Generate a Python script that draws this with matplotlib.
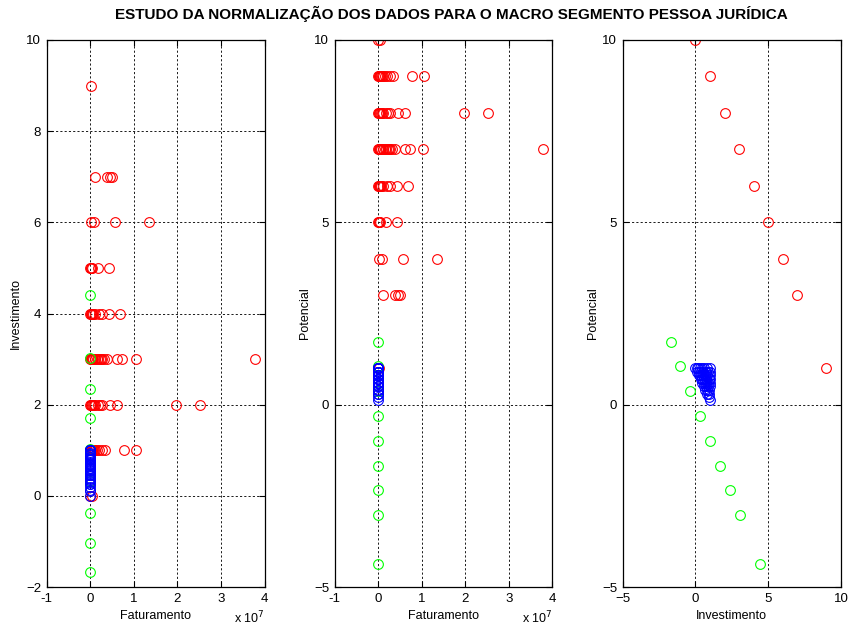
import matplotlib
matplotlib.use("Agg")
import matplotlib.pyplot as plt
from matplotlib.ticker import FuncFormatter

plt.rcParams['font.family'] = ['Liberation Sans', 'DejaVu Sans']

# ---- Raw data (red): faturamento in R$, investimento and potencial scores ----
red_faturamento = [
    0.00e7, 0.05e7,                                                    # inv 0
    0.00e7, 0.01e7, 0.02e7, 0.03e7, 0.04e7, 0.06e7, 0.08e7, 0.10e7,
    0.15e7, 0.20e7, 0.26e7, 0.33e7, 0.78e7, 1.06e7,                    # inv 1
    0.00e7, 0.01e7, 0.02e7, 0.04e7, 0.06e7, 0.08e7, 0.12e7, 0.17e7,
    0.22e7, 0.27e7, 0.45e7, 0.62e7, 1.97e7, 2.52e7,                    # inv 2
    0.00e7, 0.01e7, 0.02e7, 0.03e7, 0.05e7, 0.07e7, 0.10e7, 0.12e7, 0.15e7,
    0.18e7, 0.22e7, 0.25e7, 0.28e7, 0.32e7, 0.38e7, 0.62e7, 0.72e7, 1.04e7, 3.78e7,  # inv 3
    0.00e7, 0.01e7, 0.02e7, 0.03e7, 0.05e7, 0.07e7, 0.12e7, 0.20e7,
    0.27e7, 0.44e7, 0.68e7,                                            # inv 4
    0.00e7, 0.01e7, 0.02e7, 0.05e7, 0.18e7, 0.43e7,                    # inv 5
    0.01e7, 0.09e7, 0.57e7, 1.34e7,                                    # inv 6
    0.12e7, 0.39e7, 0.45e7, 0.51e7,                                    # inv 7
    0.01e7,                                                            # inv 9
]
red_investimento = (
    [0] * 2 + [1] * 14 + [2] * 14 + [3] * 19 + [4] * 11 +
    [5] * 6 + [6] * 4 + [7] * 4 + [9] * 1
)
red_potencial = (
    [10] * 2 + [9] * 14 + [8] * 14 + [7] * 19 + [6] * 11 +
    [5] * 6 + [4] * 4 + [3] * 4 + [1] * 1
)

# ---- Standardised data (green) ----
green_faturamento = [0, 0, 0, 0, 0, 0, 0, 0, 0]
green_investimento = [-1.67, -1.04, -0.37, 0.33, 1.03, 1.70, 2.35, 3.03, 4.40]
green_potencial = [1.71, 1.05, 0.37, -0.32, -0.99, -1.67, -2.33, -3.02, -4.37]

# ---- Min-max normalised data (blue) ----
blue_investimento = [
    0.00, 0.10, 0.20, 0.30, 0.45, 0.60, 0.80, 1.00,
    0.12, 0.25, 0.40, 0.55, 0.70, 0.85, 1.00,
    0.25, 0.36, 0.50, 0.65, 0.80, 1.00,
    0.35, 0.46, 0.60, 0.75, 0.90, 1.00,
    0.45, 0.58, 0.70, 0.85, 1.00,
    0.56, 0.70, 0.85, 1.00,
    0.68, 0.80, 0.95,
    0.78, 0.92,
    0.90,
    1.00,
]
blue_potencial = [
    1.00, 1.00, 1.00, 1.00, 1.00, 1.00, 1.00, 1.00,
    0.90, 0.90, 0.90, 0.90, 0.90, 0.90, 0.90,
    0.80, 0.80, 0.80, 0.80, 0.80, 0.80,
    0.70, 0.70, 0.70, 0.70, 0.70, 0.70,
    0.60, 0.60, 0.60, 0.60, 0.60,
    0.50, 0.50, 0.50, 0.50,
    0.40, 0.40, 0.40,
    0.30, 0.30,
    0.20,
    0.12,
]
blue_faturamento = [0.0] * len(blue_investimento)

TITLE = "ESTUDO DA NORMALIZAÇÃO DOS DADOS PARA O MACRO SEGMENTO PESSOA JURÍDICA"

W, H = 849, 629
fig = plt.figure(figsize=(W / 100, H / 100), dpi=100)

def box(l, r, t=40, b=587):
    return [l / W, 1 - b / H, (r - l) / W, (b - t) / H]

ax1 = fig.add_axes(box(46.7, 264.5))
ax2 = fig.add_axes(box(334.7, 552.3))
ax3 = fig.add_axes(box(622.7, 841.0))

mk = dict(linestyle='none', marker='o', markersize=7, markerfacecolor='none',
          markeredgewidth=0.8)

def unique_pairs(xs, ys):
    # coincident points are drawn once so the circles stay thin
    pairs = list(dict.fromkeys(zip(xs, ys)))
    return [p[0] for p in pairs], [p[1] for p in pairs]

def series(ax, x_red, y_red, x_green, y_green, x_blue, y_blue):
    xr, yr = unique_pairs(x_red, y_red)
    ax.plot(xr, yr, markeredgecolor='#ff0000', **mk)
    ax.plot(x_green, y_green, markeredgecolor='#00ff00', **mk)
    ax.plot(x_blue, y_blue, markeredgecolor='#0000ff', **mk)

series(ax1, red_faturamento, red_investimento, green_faturamento, green_investimento,
       blue_faturamento, blue_investimento)
series(ax2, red_faturamento, red_potencial, green_faturamento, green_potencial,
       blue_faturamento, blue_potencial)
series(ax3, red_investimento, red_potencial, green_investimento, green_potencial,
       blue_investimento, blue_potencial)

fmt_e7 = FuncFormatter(lambda v, p: f"{v / 1e7:g}")

for ax in (ax1, ax2):
    ax.set_xlim(-1e7, 4e7)
    ax.set_xticks([k * 1e7 for k in range(-1, 5)])
    ax.xaxis.set_major_formatter(fmt_e7)
    ax.set_xlabel("Faturamento", fontsize=9, labelpad=4)

ax1.set_ylim(-2, 10)
ax1.set_yticks(range(-2, 11, 2))
ax1.set_ylabel("Investimento", fontsize=9, labelpad=3)

ax2.set_ylim(-5, 10)
ax2.set_yticks([-5, 0, 5, 10])
ax2.set_ylabel("Potencial", fontsize=9, labelpad=2)

ax3.set_xlim(-5, 10)
ax3.set_xticks([-5, 0, 5, 10])
ax3.set_ylim(-5, 10)
ax3.set_yticks([-5, 0, 5, 10])
ax3.set_xlabel("Investimento", fontsize=9, labelpad=4)
ax3.set_ylabel("Potencial", fontsize=9, labelpad=2)

for ax in (ax1, ax2, ax3):
    ax.grid(True, color='0.1', linestyle=(0, (2.2, 2.2)), linewidth=0.7)
    ax.set_axisbelow(True)
    ax.tick_params(direction='in', length=4, width=0.8, labelsize=9.5,
                   top=True, right=True, pad=4)
    for s in ax.spines.values():
        s.set_linewidth(0.9)

# exponent labels under the faturamento axes
for ax in (ax1, ax2):
    ax.text(1.0, -0.0725, r"x 10$^{7}$", transform=ax.transAxes,
            ha='right', va='bottom', fontsize=9)

fig.text(451 / W, 1 - 14 / H, TITLE, ha='center', va='center',
         fontsize=11, fontweight='bold')

fig.savefig("out.png", dpi=100)
